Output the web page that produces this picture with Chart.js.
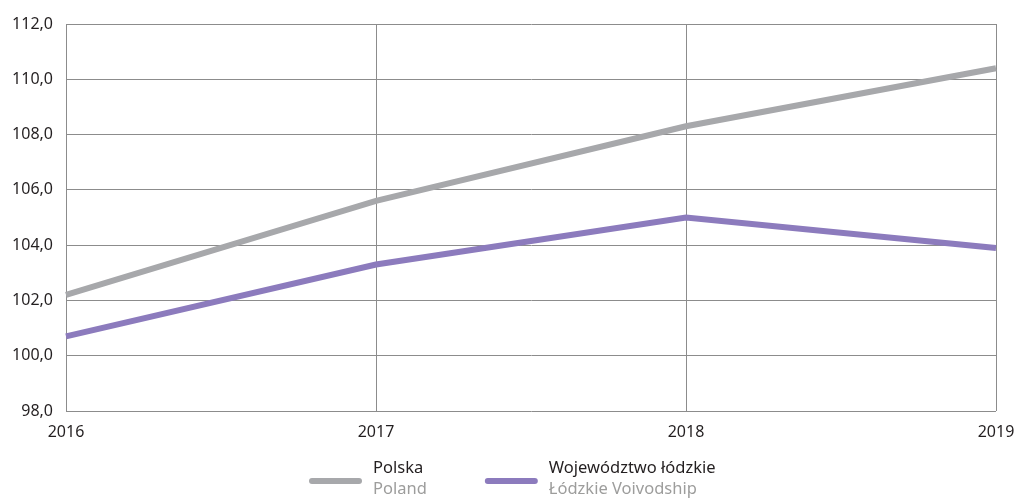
<!DOCTYPE html>
<html>
<head>
<meta charset="utf-8">
<script src="https://cdn.jsdelivr.net/npm/chart.js@4"></script>
<style>
  html, body { margin: 0; padding: 0; background: #fff; }
  #wrap { width: 1018px; height: 498px; position: relative; }
</style>
</head>
<body>
<div id="wrap"><canvas id="chart"></canvas></div>
<script>
var years = ["2016", "2017", "2018", "2019"];
var polska = [102.2, 105.6, 108.3, 110.4];
var lodzkie = [100.7, 103.3, 105.0, 103.9];
var namesPl = ["Polska", "Województwo łódzkie"];
var namesEn = ["Poland", "Łódzkie Voivodship"];

var FONT = "'Noto Sans', 'Open Sans', sans-serif";
var gridColor = "#8c8c8c";

// legend drawn under the plot: line sample + two-line label (pl / en)
var twoLineLegend = {
	id: "twoLineLegend",
	afterDraw: function (chart) {
		var c = chart.ctx;
		var sets = chart.data.datasets;
		var lineW = 53, gap = 11, itemGap = 58;
		c.save();
		c.font = "16.5px " + FONT;
		var x = 309;
		var yLine = 481;
		sets.forEach(function (ds, i) {
			var w = Math.max(c.measureText(namesPl[i]).width, c.measureText(namesEn[i]).width);
			c.strokeStyle = ds.borderColor;
			c.lineWidth = 6;
			c.lineCap = "round";
			c.beginPath();
			c.moveTo(x + 3, yLine);
			c.lineTo(x + lineW - 3, yLine);
			c.stroke();
			c.textBaseline = "middle";
			c.textAlign = "left";
			c.fillStyle = "#231f20";
			c.fillText(namesPl[i], x + lineW + gap, 468);
			c.fillStyle = "#9d9d9c";
			c.fillText(namesEn[i], x + lineW + gap, 489);
			x += lineW + gap + w + itemGap;
		});
		c.restore();
	}
};

var ctx = document.getElementById("chart");

var data = {
	labels: years,
	datasets: [
		{
			label: namesPl[0],
			data: polska,
			borderColor: "#a7a8ab",
			borderWidth: 6,
			pointRadius: 0,
			tension: 0,
			fill: false
		},
		{
			label: namesPl[1],
			data: lodzkie,
			borderColor: "#8c7bbd",
			borderWidth: 6,
			pointRadius: 0,
			tension: 0,
			fill: false
		}
	]
};

var options = {
	responsive: true,
	maintainAspectRatio: false,
	animation: false,
	layout: {
		padding: { left: 0, right: 22, top: 24, bottom: 47 }
	},
	plugins: {
		legend: { display: false },
		tooltip: { enabled: false }
	},
	scales: {
		x: {
			type: "category",
			offset: false,
			grid: { color: gridColor, lineWidth: 1, drawTicks: false },
			border: { display: false },
			ticks: {
				padding: 12,
				color: "#231f20",
				maxRotation: 0,
				font: { family: FONT, size: 16 }
			},
			afterFit: function (scale) {
				scale.height = 40;
				scale.paddingLeft = 0;
				scale.paddingRight = 0;
			}
		},
		y: {
			min: 98,
			max: 112,
			grid: { color: gridColor, lineWidth: 1, drawTicks: false },
			border: { display: true, color: gridColor, width: 1 },
			ticks: {
				stepSize: 2,
				padding: 13,
				color: "#231f20",
				font: { family: FONT, size: 16 },
				callback: function (v) { return v.toFixed(1).replace(".", ","); }
			},
			afterFit: function (scale) { scale.width = 66; }
		}
	}
};

var chart = new Chart(ctx, {
	type: "line",
	data: data,
	options: options,
	plugins: [twoLineLegend]
});
</script>
</body>
</html>
